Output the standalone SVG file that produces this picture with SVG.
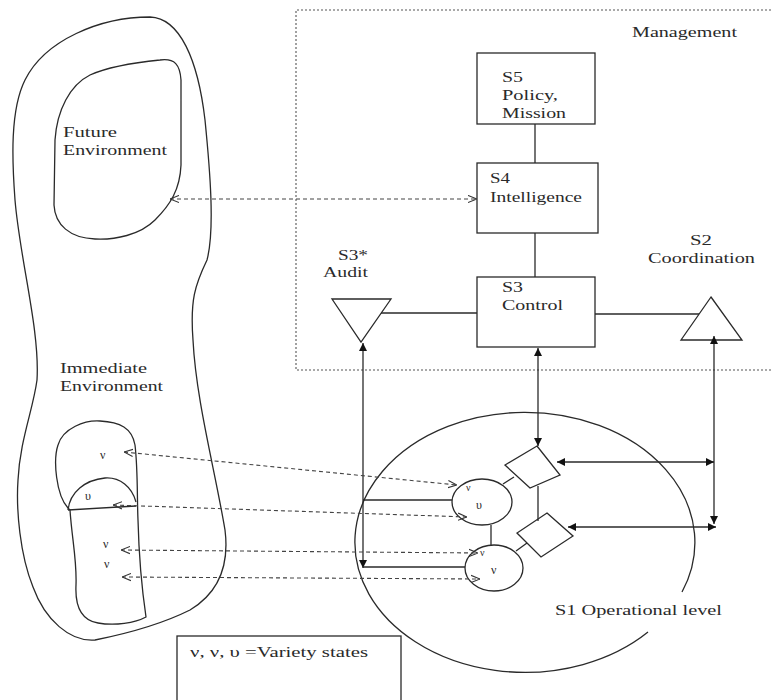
<svg xmlns="http://www.w3.org/2000/svg" width="771" height="700" viewBox="0 0 771 700">
<style>
  .ln{stroke:#2a2a2a;stroke-width:1.3;fill:none}
  .sh{stroke:#2a2a2a;stroke-width:1.3;fill:#fff}
  .dash{stroke:#444;stroke-width:1.1;fill:none;stroke-dasharray:4,3}
  .dot{stroke:#555;stroke-width:1.1;fill:none;stroke-dasharray:2,2}
  text{font-family:"Liberation Serif","Times New Roman",serif;font-size:15px;fill:#2a2a2a}
  .sm{font-size:12px}
</style>
<defs>
  <marker id="solid" viewBox="0 0 10 10" refX="10" refY="5" markerWidth="9" markerHeight="8" markerUnits="userSpaceOnUse" orient="auto-start-reverse">
    <path d="M0,0 L10,5 L0,10 Z" fill="#111"/>
  </marker>
  <marker id="open" viewBox="0 0 10 10" refX="10" refY="5" markerWidth="9" markerHeight="9" markerUnits="userSpaceOnUse" orient="auto-start-reverse">
    <path d="M0,1 L10,5 L0,9" fill="none" stroke="#333" stroke-width="1.2"/>
  </marker>
</defs>
<rect width="771" height="700" fill="#fff"/>

<g id="management">
  <path class="dot" d="M775,10 L296,10 L296,370 L775,370"/>
  <text x="632" y="37" textLength="105" lengthAdjust="spacingAndGlyphs">Management</text>
</g>

<g id="env-outer">
  <path class="ln" d="M150,17 C180,18 198,60 205,120 C210,170 215,230 207,260 C195,285 190,300 193,340 C196,400 215,470 225,530 C230,570 215,595 190,610 C160,625 120,635 95,640 C70,642 45,620 33,587 C20,555 16,510 18,480 C20,440 33,410 37,380 C40,330 20,260 15,200 C12,160 10,110 25,80 C45,40 100,17 150,17 Z"/>
  <text x="60" y="373" textLength="87" lengthAdjust="spacingAndGlyphs">Immediate</text>
  <text x="60" y="391" textLength="103" lengthAdjust="spacingAndGlyphs">Environment</text>
</g>

<g id="env-future">
  <path class="ln" d="M160,60 C175,58 180,65 181,80 L181,165 C180,190 170,205 155,220 C140,235 115,240 95,239 C70,238 55,225 54,205 L55,140 C57,110 70,85 90,75 C110,66 140,62 160,60 Z"/>
  <text x="63" y="137" textLength="54" lengthAdjust="spacingAndGlyphs">Future</text>
  <text x="63" y="155" textLength="104" lengthAdjust="spacingAndGlyphs">Environment</text>
</g>

<g id="env-immediate">
  <path class="ln" d="M68,508 C56,495 53,460 58,445 C63,428 85,420 100,421 C120,422 132,428 135,445 C138,470 137,500 138,520 C139,560 142,590 146,617 C135,623 115,626 98,623 C80,620 75,605 76,585 C77,560 72,540 70,510 Z"/>
  <path class="ln" d="M68,510 C70,492 85,480 105,478 C120,477 132,487 136,502"/>
  <path class="ln" d="M68,510 L136,506"/>
  <text class="sm" x="100" y="459">ν</text>
  <text class="sm" x="85" y="500">υ</text>
  <text class="sm" x="103" y="548">ν</text>
  <text class="sm" x="104" y="568">ν</text>
</g>

<g id="s5">
  <rect class="sh" x="477" y="53" width="118" height="71"/>
  <text x="502" y="82" textLength="21" lengthAdjust="spacingAndGlyphs">S5</text>
  <text x="502" y="100" textLength="56" lengthAdjust="spacingAndGlyphs">Policy,</text>
  <text x="502" y="118" textLength="64" lengthAdjust="spacingAndGlyphs">Mission</text>
</g>

<g id="s4">
  <rect class="sh" x="477" y="163" width="121" height="70"/>
  <text x="490" y="183" textLength="20" lengthAdjust="spacingAndGlyphs">S4</text>
  <text x="490" y="202" textLength="92" lengthAdjust="spacingAndGlyphs">Intelligence</text>
</g>

<g id="s3">
  <rect class="sh" x="477" y="277" width="118" height="70"/>
  <text x="502" y="292" textLength="21" lengthAdjust="spacingAndGlyphs">S3</text>
  <text x="502" y="310" textLength="61" lengthAdjust="spacingAndGlyphs">Control</text>
</g>

<g id="s3star">
  <polygon class="sh" points="332,299 391,299 361,342"/>
  <text x="338" y="260" textLength="30" lengthAdjust="spacingAndGlyphs">S3*</text>
  <text x="323" y="277" textLength="45" lengthAdjust="spacingAndGlyphs">Audit</text>
</g>

<g id="s2">
  <polygon class="sh" points="711,297 742,340 681,340"/>
  <text x="690" y="245" textLength="22" lengthAdjust="spacingAndGlyphs">S2</text>
  <text x="648" y="263" textLength="107" lengthAdjust="spacingAndGlyphs">Coordination</text>
</g>

<g id="s1">
  <path class="ln" d="M682,592 A170,130 0 1 0 648,632"/>
  <text x="555" y="615" textLength="167" lengthAdjust="spacingAndGlyphs">S1 Operational level</text>
</g>

<g id="circle-u">
  <ellipse class="sh" cx="482" cy="502" rx="30" ry="23"/>
  <text class="sm" x="476" y="509">υ</text>
  <text class="sm" x="466" y="491" style="font-size:10px">ν</text>
</g>

<g id="circle-v">
  <ellipse class="sh" cx="494" cy="568" rx="29" ry="23"/>
  <text class="sm" x="491" y="574">ν</text>
  <text class="sm" x="480" y="556" style="font-size:10px">ν</text>
</g>

<g id="diamond-1">
  <polygon class="sh" points="537,446 560,475 530,488 505,465"/>
</g>

<g id="diamond-2">
  <polygon class="sh" points="547,513 573,536 541,557 517,533"/>
</g>

<g id="legend">
  <rect class="sh" x="177" y="636" width="224" height="70"/>
  <text x="190" y="657" textLength="178" lengthAdjust="spacingAndGlyphs">ν, ν, υ =Variety states</text>
</g>

<g id="connectors">
  <line class="ln" x1="535" y1="124" x2="535" y2="163"/>
  <line class="ln" x1="535" y1="233" x2="535" y2="277"/>
  <line class="ln" x1="381" y1="313" x2="477" y2="313"/>
  <line class="ln" x1="595" y1="314" x2="699" y2="314"/>
  <line class="ln" x1="363" y1="343" x2="363" y2="568" marker-start="url(#solid)" marker-end="url(#solid)"/>
  <line class="ln" x1="363" y1="500" x2="452" y2="500"/>
  <line class="ln" x1="363" y1="567" x2="465" y2="567"/>
  <line class="ln" x1="538" y1="348" x2="538" y2="446" marker-start="url(#solid)" marker-end="url(#solid)"/>
  <line class="ln" x1="538" y1="486" x2="538" y2="521"/>
  <line class="ln" x1="714" y1="336" x2="714" y2="524" marker-start="url(#solid)" marker-end="url(#solid)"/>
  <line class="ln" x1="557" y1="462" x2="714" y2="462" marker-start="url(#solid)" marker-end="url(#solid)"/>
  <line class="ln" x1="568" y1="527" x2="716" y2="527" marker-start="url(#solid)" marker-end="url(#solid)"/>
  <line class="ln" x1="491" y1="525" x2="491" y2="545"/>
  <line class="ln" x1="503" y1="484" x2="514" y2="477"/>
  <line class="ln" x1="516" y1="551" x2="527" y2="543"/>
  <line class="dash" x1="170" y1="199" x2="477" y2="199" marker-start="url(#open)" marker-end="url(#open)"/>
  <line class="dash" x1="124" y1="452" x2="457" y2="485" marker-start="url(#open)" marker-end="url(#open)"/>
  <line class="dash" x1="113" y1="505" x2="467" y2="517" marker-start="url(#open)" marker-end="url(#open)"/>
  <line class="dash" x1="121" y1="550" x2="478" y2="553" marker-start="url(#open)" marker-end="url(#open)"/>
  <line class="dash" x1="122" y1="577" x2="480" y2="579" marker-start="url(#open)" marker-end="url(#open)"/>
</g>
</svg>
